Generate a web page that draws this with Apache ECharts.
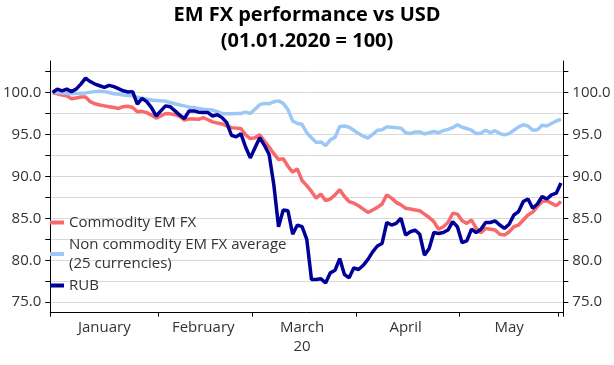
<!DOCTYPE html>
<html><head><meta charset="utf-8">
<script src="https://cdn.jsdelivr.net/npm/echarts@6/dist/echarts.min.js"></script>
<style>html,body{margin:0;padding:0;background:#fff}#c{width:614px;height:365px}</style>
</head><body><div id="c"></div>
<script>
const titleText = 'EM FX performance vs USD\n(01.01.2020 = 100)';
const seriesNames = ['Commodity EM FX', 'Non commodity EM FX average\n(25 currencies)', 'RUB'];
const seriesColors = ['#F8696B', '#9DC8F5', '#000099'];
const monthLabels = ['January', 'February', 'March\n20', 'April', 'May', ''];
const yTickValues = [75, 77.5, 80, 82.5, 85, 87.5, 90, 92.5, 95, 97.5, 100, 102.5];
const yLabelValues = [75, 80, 85, 90, 95, 100];

const commodity = [100.0, 99.85, 99.7, 99.6, 99.25, 99.35, 99.45, 99.45, 98.9, 98.65,
  98.5, 98.4, 98.3, 98.2, 98.1, 98.3, 98.35, 98.2, 97.7, 97.75,
  97.6, 97.3, 96.95, 97.2, 97.5, 97.45, 97.35, 97.15, 96.7, 96.85,
  96.85, 96.8, 97.0, 96.75, 96.5, 96.35, 96.25, 96.0, 95.8, 95.75,
  95.7, 94.95, 94.5, 94.6, 94.95, 94.2, 93.5, 92.7, 92.0, 92.1,
  91.2, 90.5, 90.9, 89.5, 88.9, 88.2, 87.4, 87.9, 87.1, 87.3,
  87.8, 88.4, 87.6, 87.0, 86.8, 86.5, 86.1, 85.7, 86.0, 86.3,
  86.7, 87.8, 87.4, 86.9, 86.6, 86.2, 86.1, 86.0, 85.9, 85.5,
  85.1, 84.6, 83.7, 84.0, 84.5, 85.6, 85.5, 84.7, 84.4, 84.8,
  83.8, 83.3, 83.8, 83.7, 83.6, 83.1, 83.0, 83.4, 84.0, 84.2,
  84.8, 85.4, 85.75, 86.4, 87.0, 87.1, 86.8, 86.5, 87.0];

const nonCommodity = [100.0, 100.0, 99.95, 99.9, 99.85, 99.87, 99.9, 99.95, 100.02, 100.1,
  100.15, 100.1, 100.0, 99.85, 99.8, 99.7, 99.65, 99.6, 99.45, 99.3,
  99.2, 99.1, 99.05, 99.0, 98.95, 98.8, 98.65, 98.5, 98.4, 98.25,
  98.2, 98.1, 98.0, 97.95, 97.9, 97.7, 97.5, 97.45, 97.45, 97.5,
  97.5, 97.65, 97.5, 98.0, 98.55, 98.7, 98.65, 98.9, 99.0, 98.7,
  97.95, 96.6, 96.3, 96.2, 95.2, 94.6, 94.05, 94.1, 93.65, 94.35,
  94.65, 95.95, 96.0, 95.85, 95.5, 95.1, 94.8, 94.55, 95.0, 95.5,
  95.55, 95.9, 95.85, 95.8, 95.75, 95.2, 95.1, 95.3, 95.3, 95.05,
  95.2, 95.35, 95.2, 95.45, 95.6, 95.8, 96.15, 95.85, 95.7, 95.5,
  95.1, 95.15, 95.5, 95.2, 95.45, 95.1, 94.95, 95.1, 95.5, 95.9,
  96.15, 96.0, 95.5, 95.55, 96.1, 96.0, 96.3, 96.6, 96.8];

const rub = [100.0, 100.4, 100.2, 100.4, 100.1, 100.4, 101.0, 101.7, 101.3, 101.0,
  100.8, 100.6, 100.85, 100.7, 100.45, 100.2, 100.05, 100.1, 98.6, 99.3,
  98.9, 98.2, 97.2, 97.8, 98.4, 98.3, 97.8, 97.3, 96.9, 97.8,
  97.8, 97.65, 97.6, 97.6, 97.2, 97.35, 97.0, 96.4, 94.9, 94.7,
  95.1, 93.5, 92.2, 93.4, 94.6, 93.7, 92.6, 89.0, 84.0, 86.0,
  85.9, 83.1, 84.2, 84.0, 82.5, 77.7, 77.7, 77.8, 77.3, 78.5,
  78.8, 80.2, 78.3, 77.9, 79.1, 78.9, 79.4, 80.1, 81.0, 81.7,
  82.0, 84.5, 84.2, 84.4, 85.0, 83.0, 83.4, 83.6, 83.1, 80.6,
  81.4, 83.3, 83.2, 83.3, 83.6, 84.6, 84.0, 82.1, 82.3, 83.7,
  83.3, 83.7, 84.5, 84.5, 84.7, 84.2, 83.8, 84.3, 85.4, 85.8,
  87.0, 87.3, 86.2, 86.7, 87.6, 87.3, 87.8, 88.0, 89.2];

// business-day categories starting 2020-01-01
const dates = [];
for (let d = new Date(Date.UTC(2020, 0, 1)); dates.length < commodity.length; d.setUTCDate(d.getUTCDate() + 1)) {
  const wd = d.getUTCDay();
  if (wd !== 0 && wd !== 6) dates.push(d.toISOString().slice(0, 10));
}
const groups = {};
dates.forEach((s, i) => { const m = parseInt(s.slice(5, 7), 10) - 1; (groups[m] = groups[m] || []).push(i); });
const firstIdx = new Set();
const labelIdx = {};
Object.keys(groups).forEach(m => {
  const g = groups[m];
  firstIdx.add(g[0]);
  if (g.length > 5) labelIdx[g[Math.floor((g.length - 1) / 2)]] = monthLabels[m];
});

const FONT = '"Open Sans", "Noto Sans", sans-serif';
const TXT = '#333333';

function yAxisCfg(pos, grid) {
  return {
    type: 'value', position: pos, min: 73.75, max: 103.75,
    axisLine: { show: true, lineStyle: { color: '#000', width: 1 } },
    axisTick: { show: true, customValues: yTickValues, length: 5, lineStyle: { color: '#000' } },
    axisLabel: { customValues: yLabelValues, formatter: v => Number(v).toFixed(1), margin: 9,
      color: TXT, fontSize: 15, fontFamily: FONT },
    splitLine: { show: grid, lineStyle: { color: '#D9D9D9', width: 1 } }
  };
}

const chart = echarts.init(document.getElementById('c'), null, { renderer: 'canvas' });
chart.setOption({
  animation: false,
  backgroundColor: '#fff',
  title: {
    text: titleText, left: 'center', top: 2, padding: 0,
    textStyle: { fontFamily: FONT, fontWeight: 'bold', fontSize: 20, lineHeight: 26, color: '#000' }
  },
  legend: {
    orient: 'vertical', left: 50, top: 213, itemGap: 3, itemWidth: 14, itemHeight: 4,
    icon: 'rect', padding: 0,
    textStyle: { fontFamily: FONT, fontSize: 15, lineHeight: 19, color: TXT },
    data: seriesNames
  },
  grid: { left: 48, right: 50.7, top: 61, bottom: 52.3, containLabel: false },
  xAxis: {
    type: 'category', data: dates, boundaryGap: true,
    axisLine: { show: true, lineStyle: { color: '#000', width: 1 } },
    axisTick: { show: true, interval: (i) => firstIdx.has(i), length: 4, lineStyle: { color: '#000' } },
    axisLabel: { interval: (i) => labelIdx[i] !== undefined, formatter: (v, i) => labelIdx[i] || '',
      margin: 6, color: TXT, fontSize: 15, lineHeight: 19, fontFamily: FONT },
    splitLine: { show: false }
  },
  yAxis: [yAxisCfg('left', true), yAxisCfg('right', false)],
  series: [
    { name: seriesNames[0], type: 'line', data: commodity, showSymbol: false, color: seriesColors[0], lineStyle: { width: 3.5 } },
    { name: seriesNames[1], type: 'line', data: nonCommodity, showSymbol: false, color: seriesColors[1], lineStyle: { width: 3.5 } },
    { name: seriesNames[2], type: 'line', data: rub, showSymbol: false, color: seriesColors[2], lineStyle: { width: 3.5 } }
  ]
});
</script>
</body></html>
